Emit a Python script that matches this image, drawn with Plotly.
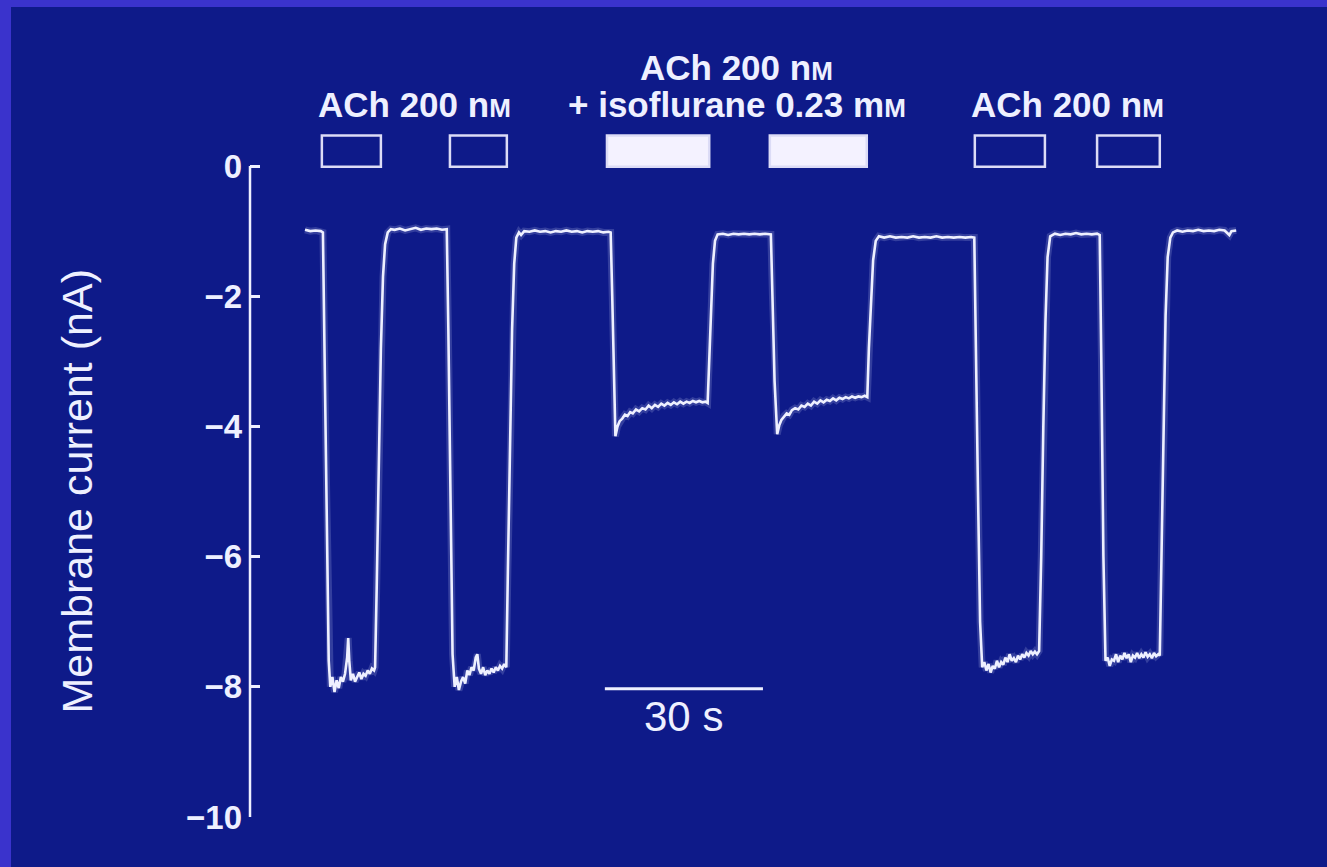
import plotly.graph_objects as go

# ---------------- data ----------------
time_s = [
    0.0, 1.0, 2.0, 3.0, 3.4, 4.0, 4.5, 4.8,
    5.2, 5.6, 6.0, 6.4, 6.8, 7.2, 7.6, 8.0, 8.2, 8.4, 8.7, 9.1, 9.5, 9.9, 10.3, 10.7,
    11.1, 11.5, 11.9, 12.3, 12.7, 13.1, 13.3,
    13.6, 14.0, 14.4, 14.8, 15.2, 15.7, 16.3,
    17.0, 18.0, 19.0, 20.0, 21.0, 22.0, 23.0, 24.0, 25.0, 26.0, 26.9,
    27.2, 27.6, 28.0, 28.4,
    28.8, 29.2, 29.6, 30.0, 30.4, 30.8, 31.2, 31.6, 32.0, 32.4, 32.7, 33.0, 33.4, 33.8,
    34.2, 34.6, 35.0, 35.4, 35.8, 36.2, 36.6, 37.0, 37.4, 37.8, 38.2,
    38.5, 38.9, 39.3, 39.7, 40.1, 40.6,
    41.0, 41.6, 42.6, 43.6, 44.6, 45.6, 46.6, 47.6, 48.6, 49.6, 50.6, 51.6, 52.6, 53.6,
    54.6, 55.6, 56.6, 57.6, 58.0,
    58.3, 58.6, 58.9,
    59.3, 59.7, 60.2, 60.7, 61.2, 61.7, 62.2, 62.8, 63.4, 64.0, 64.6, 65.2, 65.8, 66.4,
    67.0, 67.6, 68.2, 68.8, 69.4, 70.0, 70.6, 71.2, 71.8, 72.4, 73.0, 73.6, 74.2, 74.8,
    75.4, 76.0, 76.4,
    76.7, 77.0, 77.4, 77.8, 78.3,
    79.3, 80.3, 81.3, 82.3, 83.3, 84.3, 85.3, 86.3, 87.3, 88.4,
    88.7, 89.1, 89.6,
    90.0, 90.4, 90.9, 91.4, 91.9, 92.4, 93.0, 93.6, 94.2, 94.8, 95.4, 96.0, 96.6, 97.2,
    97.8, 98.4, 99.0, 99.6, 100.2, 100.8, 101.4, 102.0, 102.6, 103.2, 103.8, 104.4,
    105.0, 105.6, 106.2, 106.7,
    107.0, 107.4, 107.8, 108.3, 108.9,
    109.9, 111.0, 112.1, 113.2, 114.3, 115.4, 116.5, 117.6, 118.7, 119.8, 120.9, 122.0,
    123.1, 124.2, 125.3, 126.4, 127.0,
    127.3, 127.7, 128.1, 128.5,
    128.9, 129.3, 129.7, 130.1, 130.5, 130.9, 131.3, 131.7, 132.1, 132.5, 132.9, 133.3,
    133.7, 134.1, 134.5, 134.9, 135.3, 135.7, 136.1, 136.5, 136.9, 137.3, 137.7, 138.1,
    138.5, 138.9, 139.3,
    139.7, 140.1, 140.5, 140.9, 141.4,
    142.3, 143.3, 144.3, 145.3, 146.3, 147.3, 148.3, 149.3, 150.3, 150.8,
    151.1, 151.5, 151.9,
    152.3, 152.7, 153.1, 153.5, 153.9, 154.3, 154.7, 155.1, 155.5, 155.9, 156.3, 156.7,
    157.1, 157.5, 157.9, 158.3, 158.7, 159.1, 159.5, 159.9, 160.3, 160.7, 161.1, 161.5,
    161.9, 162.2,
    162.5, 162.9, 163.3, 163.7, 164.2, 164.7,
    165.5, 166.5, 167.5, 168.5, 169.5, 170.5, 171.5, 172.5, 173.5, 174.5, 175.0, 175.4,
    175.8, 176.7,
]

current_nA = [
    -0.98, -1.0, -0.99, -1.0, -1.02, -4.5, -7.6, -8.0,
    -7.85, -8.08, -7.9, -8.02, -7.85, -7.92, -7.8, -7.55, -7.25, -7.6, -7.9, -7.8, -7.92, -7.85, -7.78, -7.88,
    -7.8, -7.83, -7.75, -7.8, -7.72, -7.75, -7.7,
    -6.5, -4.5, -2.8, -1.7, -1.2, -1.02, -0.97,
    -0.98, -0.96, -0.99, -0.97, -0.95, -0.98, -0.96, -0.97, -0.96, -0.98, -0.97,
    -2.5, -5.5, -7.5, -8.0,
    -7.85, -8.05, -7.92, -7.85, -7.95, -7.75, -7.82, -7.7, -7.75, -7.55, -7.5, -7.72, -7.8, -7.7,
    -7.82, -7.75, -7.8, -7.72, -7.78, -7.7, -7.75, -7.68, -7.72, -7.65, -7.7,
    -6.2, -4.2, -2.5, -1.5, -1.1, -1.02,
    -1.06, -1.0, -1.01, -0.99, -1.01, -1.0, -1.02, -1.0, -1.01, -0.99, -1.01, -1.0, -1.02, -1.0,
    -1.01, -1.0, -1.02, -1.01, -1.02,
    -2.0, -3.3, -4.15,
    -4.0, -3.92, -3.88, -3.82, -3.84, -3.78, -3.8, -3.74, -3.77, -3.72, -3.74, -3.68, -3.72, -3.67,
    -3.7, -3.65, -3.68, -3.64, -3.67, -3.63, -3.66, -3.62, -3.65, -3.62, -3.64, -3.61, -3.63, -3.61,
    -3.63, -3.62, -3.64,
    -3.0, -2.2, -1.5, -1.15, -1.05,
    -1.04, -1.06, -1.04, -1.05, -1.04, -1.05, -1.04, -1.05, -1.04, -1.05,
    -2.0, -3.3, -4.12,
    -3.98, -3.9, -3.84, -3.8, -3.82, -3.75, -3.72, -3.74, -3.68, -3.7, -3.65, -3.68, -3.62, -3.65,
    -3.6, -3.63, -3.59, -3.61, -3.57, -3.6, -3.56, -3.58, -3.55, -3.57, -3.54, -3.56,
    -3.54, -3.55, -3.53, -3.55,
    -2.8, -2.0, -1.45, -1.15, -1.08,
    -1.1, -1.08, -1.1, -1.09, -1.1, -1.08, -1.1, -1.09, -1.1, -1.08, -1.1, -1.09,
    -1.1, -1.09, -1.1, -1.09, -1.1,
    -2.5, -5.0, -7.0, -7.7,
    -7.62, -7.75, -7.65, -7.78, -7.68, -7.72, -7.6, -7.7, -7.62, -7.66, -7.55, -7.62,
    -7.5, -7.6, -7.56, -7.62, -7.52, -7.58, -7.5, -7.55, -7.48, -7.52, -7.45, -7.5,
    -7.46, -7.5, -7.45,
    -6.0, -4.0, -2.4, -1.4, -1.08,
    -1.04, -1.06, -1.04, -1.05, -1.03, -1.05, -1.04, -1.05, -1.04, -1.06,
    -3.0, -6.0, -7.6,
    -7.55, -7.68, -7.58, -7.6, -7.5, -7.62, -7.52, -7.58, -7.48, -7.56, -7.5, -7.62,
    -7.52, -7.55, -7.48, -7.56, -7.5, -7.55, -7.47, -7.54, -7.5, -7.56, -7.48, -7.53,
    -7.5, -7.52,
    -6.0, -4.0, -2.3, -1.4, -1.1, -1.02,
    -0.99, -1.01, -0.99, -1.0, -0.98, -1.0, -0.99, -1.0, -0.98, -0.99, -1.03, -1.06,
    -1.0, -0.99,
]

# drug application periods (s)
stim_start = [3.2, 27.5, 57.3, 88.2, 127.1, 150.3]
stim_end = [14.4, 38.3, 76.7, 106.6, 140.4, 162.2]
stim_filled = [False, False, True, True, False, False]

# label groups: first box index of each pair, and text lines
label_groups = [0, 2, 4]
label_lines = [
    ["ACh 200 n<span style='font-size:26px'>M</span>"],
    ["ACh 200 n<span style='font-size:26px'>M</span>",
     "+ isoflurane 0.23 m<span style='font-size:26px'>M</span>"],
    ["ACh 200 n<span style='font-size:26px'>M</span>"],
]

y_ticks = [0, -2, -4, -6, -8, -10]
y_ticktext = ["0", "\u22122", "\u22124", "\u22126", "\u22128", "\u221210"]
y_title = "Membrane current (nA)"

scalebar_start = 56.9
scalebar_len = 30
scalebar_text = "30 s"

# ---------------- style ----------------
BG = "#0e1a89"
BORDER = "#3a33cc"
FG = "#eef0ff"
FONT = "Liberation Sans, Arial, sans-serif"

fig = go.Figure()

# soft glow under trace
fig.add_trace(go.Scatter(x=time_s, y=current_nA, mode="lines",
                         line=dict(color="rgba(220,225,255,0.18)", width=7),
                         hoverinfo="skip", showlegend=False))
fig.add_trace(go.Scatter(x=time_s, y=current_nA, mode="lines",
                         line=dict(color=FG, width=2.6),
                         showlegend=False))

shapes = []
# y axis line from 0 to -10
shapes.append(dict(type="line", xref="paper", yref="y", x0=0, x1=0,
                   y0=y_ticks[0], y1=y_ticks[-1],
                   line=dict(color=FG, width=2.5)))

# stimulus boxes
for s, e, filled in zip(stim_start, stim_end, stim_filled):
    shapes.append(dict(type="rect", xref="x", yref="y", x0=s, x1=e,
                       y0=-0.01, y1=0.47,
                       line=dict(color="#dcdcf6", width=2.5),
                       fillcolor="#f4f2ff" if filled else "rgba(0,0,0,0)"))

# scale bar
shapes.append(dict(type="line", xref="x", yref="y",
                   x0=scalebar_start, x1=scalebar_start + scalebar_len,
                   y0=-8.03, y1=-8.03, line=dict(color=FG, width=3)))

# frame border bands (top and left)
shapes.append(dict(type="rect", xref="paper", yref="paper",
                   x0=-0.3, x1=(11 - 250) / 1030, y0=-0.2, y1=1.2,
                   line=dict(width=0), fillcolor=BORDER, layer="below"))
shapes.append(dict(type="rect", xref="paper", yref="paper",
                   x0=-0.3, x1=1.3, y0=1 + (40 - 7) / 777, y1=1.2,
                   line=dict(width=0), fillcolor=BORDER, layer="below"))

annotations = []
for gi, lines in zip(label_groups, label_lines):
    n = len(lines)
    last = gi + 1
    xc = (stim_start[gi] + stim_end[last]) / 2
    ys = [0.94] if n == 1 else [1.52, 0.94]
    for txt, yy in zip(lines, ys):
        annotations.append(dict(x=xc, y=yy, xref="x", yref="y", text=txt,
                                showarrow=False, xanchor="center", yanchor="middle",
                                font=dict(family=FONT, size=35, color=FG, weight="bold")))

annotations.append(dict(x=scalebar_start + scalebar_len / 2, y=-8.45, xref="x", yref="y",
                        text=scalebar_text, showarrow=False,
                        font=dict(family=FONT, size=42, color=FG)))

annotations.append(dict(x=(76 - 250) / 1030, y=-5.0, xref="paper", yref="y",
                        text=y_title, textangle=-90, showarrow=False,
                        xanchor="center", yanchor="middle",
                        font=dict(family=FONT, size=43, color=FG)))

fig.update_layout(
    width=1327, height=867,
    margin=dict(l=250, r=47, t=40, b=50),
    paper_bgcolor=BG, plot_bgcolor=BG,
    shapes=shapes, annotations=annotations,
    xaxis=dict(range=[-55 / 5.27, 975 / 5.27], visible=False, showgrid=False, zeroline=False),
    yaxis=dict(range=[-10, -10 + 777 / 65.1], showgrid=False, zeroline=False,
               showline=False, tickmode="array", tickvals=y_ticks, ticktext=y_ticktext,
               ticks="inside", ticklen=10, tickwidth=2.5, tickcolor=FG,
               ticklabelstandoff=7,
               tickfont=dict(family=FONT, size=33, color=FG, weight="bold")),
)

fig.write_html("out.html")
